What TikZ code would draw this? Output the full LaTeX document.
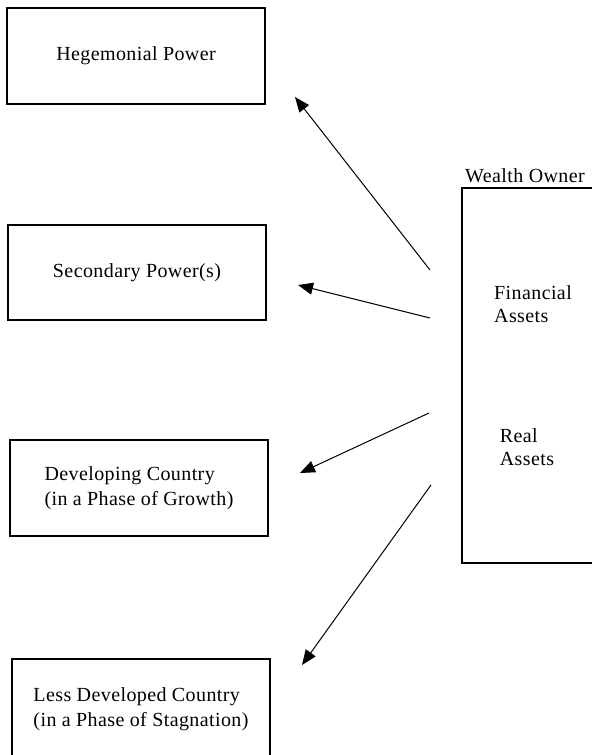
\documentclass[tikz,border=0pt]{standalone}
\usepackage{fontspec}
\setmainfont[LetterSpace=2]{Liberation Serif}
\usetikzlibrary{arrows.meta}

\begin{document}
\begin{tikzpicture}[x=0.5pt, y=-0.5pt,
    country/.style={draw, line width=0.6pt, minimum width=129pt, minimum height=48pt, align=left, font=\fontsize{10}{12.5}\selectfont},
    label/.style={align=left, font=\fontsize{10}{11.5}\selectfont},
    flow/.style={line width=0.5pt, -{Triangle[length=7.5pt, width=6pt]}}]
    \useasboundingbox (0,0) rectangle (592,755);
    % Laender (links)
    \node[country] (hegemon) at (136,56) {Hegemonial Power};
    \node[country, minimum height=47.5pt] (secondary) at (137,272.5) {Secondary Power(s)};
    \node[country] (developing) at (139,488) {Developing Country\\(in a Phase of Growth)};
    \node[country, minimum height=50pt] (lessdev) at (141,709) {Less Developed Country\\(in a Phase of Stagnation)};
    % Vermoegensbesitzer (rechts, angeschnitten)
    \node[label] (ownertitle) at (525,176) {Wealth Owner};
    \draw[line width=0.6pt] (640,188) -- (462,188) -- (462,563) -- (640,563);
    \node[label] (financial) at (533,304) {Financial\\Assets};
    \node[label] (real) at (527,447) {Real\\Assets};
    % Pfeile
    \coordinate (s1) at (430,270);   \coordinate (t1) at (295,97);
    \coordinate (s2) at (430,318);   \coordinate (t2) at (298,285);
    \coordinate (s3) at (429,413);   \coordinate (t3) at (300,473);
    \coordinate (s4) at (431,485);   \coordinate (t4) at (302,665);
    \draw[flow] (s1) -- (t1);
    \draw[flow] (s2) -- (t2);
    \draw[flow] (s3) -- (t3);
    \draw[flow] (s4) -- (t4);
\end{tikzpicture}
\end{document}
